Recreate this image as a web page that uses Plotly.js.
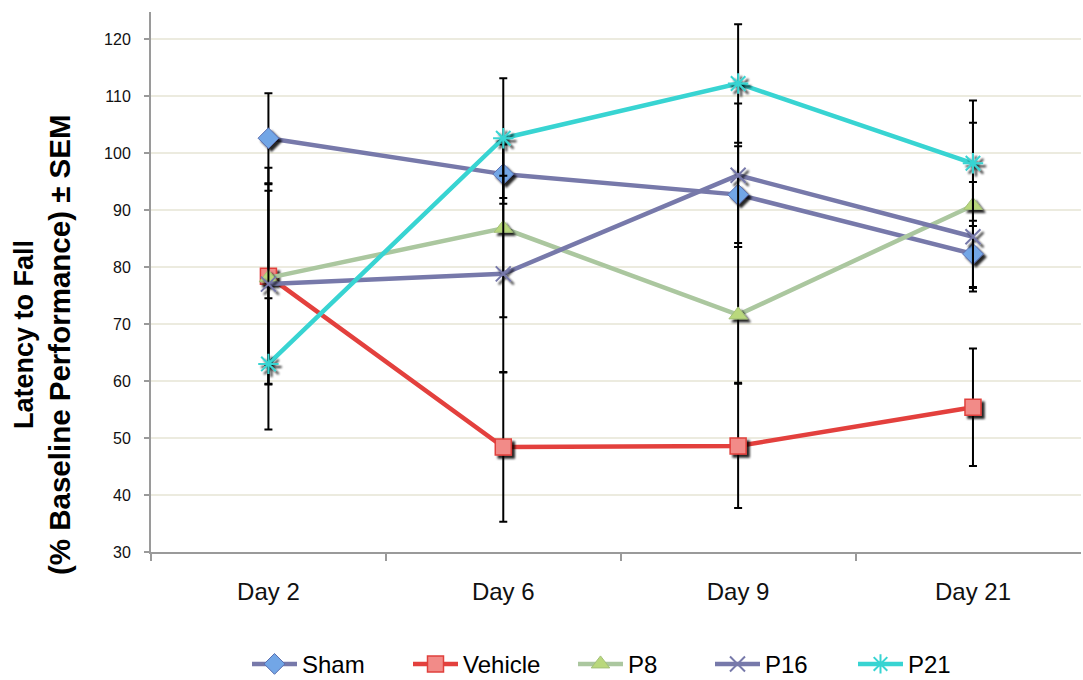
<!DOCTYPE html>
<html>
<head>
<meta charset="utf-8">
<script src="https://cdn.plot.ly/plotly-3.0.1.min.js"></script>
<style>
html,body{margin:0;padding:0;background:#fff;}
#chart{width:1083px;height:680px;}
</style>
</head>
<body>
<div id="chart"></div>
<script>
// ---- data ----
var days = ['Day 2', 'Day 6', 'Day 9', 'Day 21'];
var seriesNames = ['Sham', 'Vehicle', 'P8', 'P16', 'P21'];
var sham = [102.6, 96.3, 92.7, 82.3];
var shamErr = [7.9, 5.2, 8.5, 5.8];
var vehicle = [78.4, 48.4, 48.6, 55.4];
var vehicleErr = [19.0, 13.1, 10.9, 10.3];
var p8 = [78.1, 86.8, 71.6, 90.8];
var p8Err = [15.3, 15.6, 11.9, 14.5];
var p16 = [77.0, 78.8, 96.1, 85.3];
var p16Err = [17.5, 17.2, 12.6, 9.6];
var p21 = [63.0, 102.6, 112.2, 98.2];
var p21Err = [11.5, 10.5, 10.4, 11.0];
var yTickVals = [30, 40, 50, 60, 70, 80, 90, 100, 110, 120];

var FONT = '"Liberation Sans", Arial, Helvetica, sans-serif';

function errBar(arr) {
  return {type: 'data', array: arr, visible: true, color: '#000', thickness: 2, width: 4};
}

var traces = [
  {name: seriesNames[0], x: days, y: sham, error_y: errBar(shamErr), legend: 'legend',
   mode: 'lines+markers', line: {color: '#7779aa', width: 4.5},
   marker: {symbol: 'diamond', size: 16, color: '#72a6e6', line: {color: '#5b6fb0', width: 1}}},
  {name: seriesNames[1], x: days, y: vehicle, error_y: errBar(vehicleErr), legend: 'legend2',
   mode: 'lines+markers', line: {color: '#e3403d', width: 4.5},
   marker: {symbol: 'square', size: 16, color: '#f28b88', line: {color: '#e0403c', width: 1.5}}},
  {name: seriesNames[2], x: days, y: p8, error_y: errBar(p8Err), legend: 'legend3',
   mode: 'lines+markers', line: {color: '#abc79f', width: 4.5},
   marker: {symbol: 'triangle-up', size: 16, color: '#b9d87c', line: {color: '#a3c078', width: 1}}},
  {name: seriesNames[3], x: days, y: p16, error_y: errBar(p16Err), legend: 'legend4',
   mode: 'lines+markers', line: {color: '#7779aa', width: 4.5},
   marker: {symbol: 'x-thin-open', size: 15, color: '#7779aa', line: {color: '#7779aa', width: 2}}},
  {name: seriesNames[4], x: days, y: p21, error_y: errBar(p21Err), legend: 'legend5',
   mode: 'lines+markers', line: {color: '#38d4d2', width: 4.5},
   marker: {symbol: 'asterisk-open', size: 17, color: '#38d4d2', line: {color: '#38d4d2', width: 2}}}
];

function legendAt(px) {
  return {x: (px - 151) / 930, xanchor: 'left', y: -0.208, yanchor: 'middle',
    orientation: 'h', bgcolor: 'rgba(0,0,0,0)', itemwidth: 45,
    font: {family: FONT, size: 24, color: '#000'}};
}

var layout = {
  width: 1083, height: 680,
  margin: {l: 151, r: 2, t: 12, b: 128, autoexpand: false},
  paper_bgcolor: '#fff', plot_bgcolor: '#fff',
  font: {family: FONT, color: '#000'},
  showlegend: true,
  legend: legendAt(247),
  legend2: legendAt(408),
  legend3: legendAt(573),
  legend4: legendAt(710),
  legend5: legendAt(853),
  xaxis: {
    type: 'category', range: [-0.5, 3.46], showgrid: false, zeroline: false,
    showline: true, linecolor: '#9a9a9a', linewidth: 2,
    ticks: 'outside', tickson: 'boundaries', ticklen: 7, tickcolor: '#9a9a9a', tickwidth: 2,
    tickfont: {family: FONT, size: 24, color: '#111'}, ticklabelstandoff: 17,
    fixedrange: true, automargin: false
  },
  yaxis: {
    range: [30, 124.74], tickvals: yTickVals, ticktext: yTickVals.map(String),
    showgrid: true, gridcolor: '#ecebdf', gridwidth: 1.5, zeroline: false,
    showline: true, linecolor: '#9a9a9a', linewidth: 2,
    ticks: 'outside', ticklen: 5, tickcolor: '#9a9a9a', tickwidth: 2,
    tickfont: {family: FONT, size: 16, color: '#111'}, ticklabelstandoff: 10,
    fixedrange: true, automargin: false
  },
  annotations: [
    {text: '<b>Latency to Fall</b>', xref: 'paper', yref: 'paper',
     x: (24 - 151) / 930, y: (552 - 335) / 540, xanchor: 'center', yanchor: 'middle',
     textangle: -90, showarrow: false, font: {family: FONT, size: 27, color: '#000'}},
    {text: '<b>(% Baseline Performance) ± SEM</b>', xref: 'paper', yref: 'paper',
     x: (59 - 151) / 930, y: (552 - 345) / 540, xanchor: 'center', yanchor: 'middle',
     textangle: -90, showarrow: false, font: {family: FONT, size: 29.5, color: '#000'}}
  ]
};

function addShadows() {
  var gd = document.getElementById('chart');
  var svg = gd.querySelector('.main-svg');
  if (!svg) return;
  var defs = svg.querySelector('defs');
  if (!defs) { defs = document.createElementNS('http://www.w3.org/2000/svg', 'defs'); svg.insertBefore(defs, svg.firstChild); }
  if (!document.getElementById('mshadow')) {
    var f = document.createElementNS('http://www.w3.org/2000/svg', 'filter');
    f.setAttribute('id', 'mshadow');
    f.setAttribute('x', '-50%'); f.setAttribute('y', '-50%');
    f.setAttribute('width', '200%'); f.setAttribute('height', '200%');
    var d = document.createElementNS('http://www.w3.org/2000/svg', 'feDropShadow');
    d.setAttribute('dx', '3'); d.setAttribute('dy', '3'); d.setAttribute('stdDeviation', '1');
    d.setAttribute('flood-color', '#000'); d.setAttribute('flood-opacity', '0.85');
    f.appendChild(d);
    defs.appendChild(f);
  }
  gd.querySelectorAll('.scatterlayer .trace .points path').forEach(function (p) {
    p.setAttribute('filter', 'url(#mshadow)');
  });
}

Plotly.newPlot('chart', traces, layout, {displayModeBar: false, staticPlot: true}).then(addShadows);
</script>
</body>
</html>
